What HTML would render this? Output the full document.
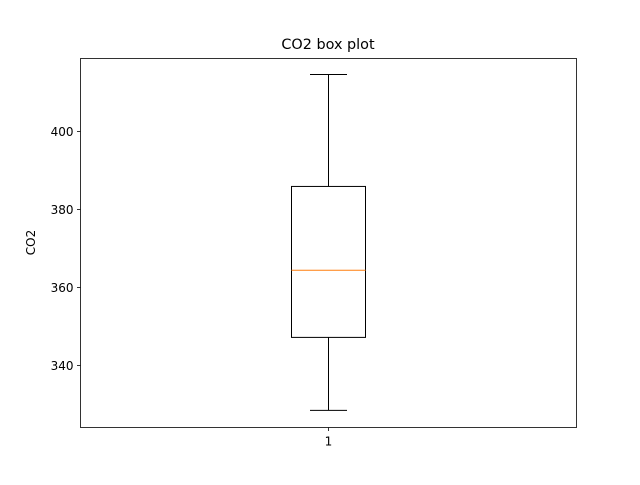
<!DOCTYPE html>
<html><head><meta charset="utf-8"><style>
body{margin:0;background:#fff;}
svg text{font-family:"DejaVu Sans","Liberation Sans",sans-serif;}
</style></head><body>
<svg width="640" height="480" id="c">
<rect width="640" height="480" fill="#fff"/>
<text x="328" y="49" text-anchor="middle" font-size="14.4">CO2 box plot</text>
<text transform="translate(35,242.5) rotate(-90)" text-anchor="middle" font-size="12">CO2</text>
<g id="marks"></g>
<rect x="80.5" y="58.5" width="496" height="369" fill="none" stroke="#000" stroke-width="0.8"/>
</svg>
<script>
const categories=["1"];
const whiskerLow=[328.5];
const q1=[347.2];
const median=[364.4];
const q3=[385.9];
const whiskerHigh=[414.6];
const yTicks=[340,360,380,400];
const yMin=324.1,yMax=418.7;
const L=80.5,R=576.5,T=58.5,B=427.5;
function y(v){return B-(v-yMin)/(yMax-yMin)*(B-T);}
function x(i){return L+(i+1)/(categories.length+1)*(R-L);}
const ns="http://www.w3.org/2000/svg";
const g=document.getElementById('marks');
function mk(t,a,name){const e=document.createElementNS(ns,t);for(const k in a)e.setAttribute(k,a[k]);


g.appendChild(e);return e;}
yTicks.forEach(v=>{
 mk('line',{x1:L-3.5,x2:L,y1:y(v),y2:y(v),stroke:'#000','stroke-width':0.8},'y-tick');
 const t=mk('text',{x:L-7,y:y(v)+4.5,'text-anchor':'end','font-size':12},'y-tick-label');t.textContent=v;
});
categories.forEach((c,i)=>{
 const cx=x(i),hw=37,cw=18.5;
 mk('line',{x1:cx,x2:cx,y1:y(q3[i]),y2:y(whiskerHigh[i]),stroke:'#000'},'upper-whisker');
 mk('line',{x1:cx,x2:cx,y1:y(q1[i]),y2:y(whiskerLow[i]),stroke:'#000'},'lower-whisker');
 mk('line',{x1:cx-cw,x2:cx+cw,y1:y(whiskerHigh[i]),y2:y(whiskerHigh[i]),stroke:'#000'},'upper-cap');
 mk('line',{x1:cx-cw,x2:cx+cw,y1:y(whiskerLow[i]),y2:y(whiskerLow[i]),stroke:'#000'},'lower-cap');
 mk('rect',{x:cx-hw,y:y(q3[i]),width:2*hw,height:y(q1[i])-y(q3[i]),fill:'none',stroke:'#000'},'box');
 mk('line',{x1:cx-hw,x2:cx+hw,y1:y(median[i]),y2:y(median[i]),stroke:'#ff7f0e'},'median-line');
 mk('line',{x1:cx,x2:cx,y1:B,y2:B+3.5,stroke:'#000','stroke-width':0.8},'x-tick');
 const t=mk('text',{x:cx,y:B+18,'text-anchor':'middle','font-size':12},'x-tick-label');t.textContent=c;
});
</script>
</body></html>
